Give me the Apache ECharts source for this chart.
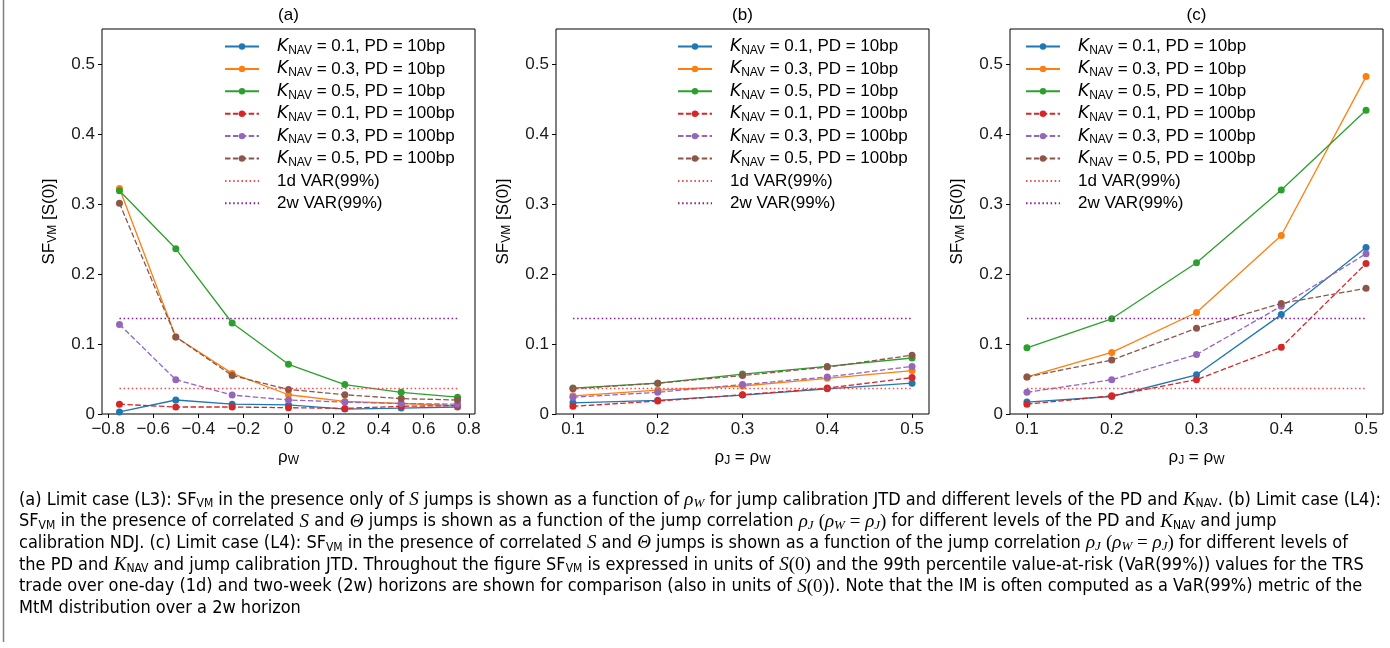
<!DOCTYPE html>
<html><head><meta charset="utf-8">
<script src="https://cdn.jsdelivr.net/npm/echarts@6/dist/echarts.min.js"></script>
<style>html,body{margin:0;padding:0;background:#fff}#c{width:1390px;height:648px}</style>
</head><body><div id="c"></div>
<script>
// ---------- data ----------
const xA = [-0.75, -0.5, -0.25, 0, 0.25, 0.5, 0.75];
const xBC = [0.1, 0.2, 0.3, 0.4, 0.5];

// panel (a)
const a_k01_10  = [0.003, 0.020, 0.014, 0.013, 0.007, 0.0085, 0.010];
const a_k03_10  = [0.322, 0.110, 0.058, 0.0275, 0.018, 0.015, 0.012];
const a_k05_10  = [0.319, 0.236, 0.130, 0.071, 0.042, 0.031, 0.024];
const a_k01_100 = [0.014, 0.010, 0.010, 0.009, 0.008, 0.011, 0.012];
const a_k03_100 = [0.128, 0.049, 0.027, 0.020, 0.017, 0.015, 0.014];
const a_k05_100 = [0.301, 0.110, 0.055, 0.035, 0.0275, 0.022, 0.020];
// panel (b)
const b_k01_10  = [0.016, 0.0195, 0.027, 0.036, 0.044];
const b_k03_10  = [0.026, 0.034, 0.040, 0.051, 0.062];
const b_k05_10  = [0.037, 0.044, 0.057, 0.068, 0.080];
const b_k01_100 = [0.011, 0.0185, 0.0275, 0.037, 0.052];
const b_k03_100 = [0.024, 0.031, 0.042, 0.053, 0.068];
const b_k05_100 = [0.036, 0.044, 0.055, 0.067, 0.084];
// panel (c)
const c_k01_10  = [0.017, 0.025, 0.056, 0.142, 0.238];
const c_k03_10  = [0.053, 0.088, 0.145, 0.255, 0.482];
const c_k05_10  = [0.0945, 0.136, 0.216, 0.320, 0.434];
const c_k01_100 = [0.014, 0.026, 0.049, 0.0955, 0.215];
const c_k03_100 = [0.031, 0.049, 0.085, 0.154, 0.229];
const c_k05_100 = [0.053, 0.077, 0.1225, 0.158, 0.1795];

const var1d = 0.0365;
const var2w = 0.1365;

const seriesNames = [
  'K_NAV = 0.1, PD = 10bp', 'K_NAV = 0.3, PD = 10bp', 'K_NAV = 0.5, PD = 10bp',
  'K_NAV = 0.1, PD = 100bp', 'K_NAV = 0.3, PD = 100bp', 'K_NAV = 0.5, PD = 100bp'
];
const varNames = ['1d VAR(99%)', '2w VAR(99%)'];
const panelTitles = ['(a)', '(b)', '(c)'];

const xTicksA = [-0.8, -0.6, -0.4, -0.2, 0, 0.2, 0.4, 0.6, 0.8];
const xTicksBC = [0.1, 0.2, 0.3, 0.4, 0.5];
const yTicks = [0, 0.1, 0.2, 0.3, 0.4, 0.5];

// ---------- styling ----------
const colors = ['#1f77b4', '#ff7f0e', '#2ca02c', '#d62728', '#9467bd', '#8c564b'];
const varColors = ['#f24a4a', '#8a1a96'];
const FONT = "'Liberation Sans', Arial, sans-serif";

const panels = [
  {xs: xA, ys: [a_k01_10, a_k03_10, a_k05_10, a_k01_100, a_k03_100, a_k05_100], left: 102, xmin: -0.8275, xmax: 0.8275, ticks: xTicksA, legendLeft: 224,
   xname: '{r|ρ}{s|W}'},
  {xs: xBC, ys: [b_k01_10, b_k03_10, b_k05_10, b_k01_100, b_k03_100, b_k05_100], left: 556, xmin: 0.08, xmax: 0.52, ticks: xTicksBC, legendLeft: 677,
   xname: '{r|ρ}{s|J}{r| = ρ}{s|W}'},
  {xs: xBC, ys: [c_k01_10, c_k03_10, c_k05_10, c_k01_100, c_k03_100, c_k05_100], left: 1010, xmin: 0.08, xmax: 0.52, ticks: xTicksBC, legendLeft: 1025,
   xname: '{r|ρ}{s|J}{r| = ρ}{s|W}'}
];
const GW = 373, GTOP = 29, GH = 385;

const subRich = {
  r: {fontSize: 17, fontFamily: FONT, lineHeight: 20, color: '#000'},
  s: {fontSize: 12, fontFamily: FONT, lineHeight: 12, verticalAlign: 'bottom', color: '#000'}
};

const grids = [], xAxes = [], yAxes = [], series = [], legends = [], graphics = [];

function fmtX(v) {
  if (Math.abs(v) < 1e-9) return '0';
  return (v < 0 ? '\u2212' : '') + Math.abs(v).toFixed(1);
}

panels.forEach((p, gi) => {
  grids.push({left: p.left, top: GTOP, width: GW, height: GH, show: true, borderColor: '#000', borderWidth: 1, backgroundColor: 'transparent'});
  xAxes.push({
    type: 'value', gridIndex: gi, min: p.xmin, max: p.xmax,
    axisLine: {show: false, onZero: false},
    axisTick: {show: true, customValues: p.ticks, length: 4, inside: false, lineStyle: {color: '#000', width: 1}},
    axisLabel: {show: true, customValues: p.ticks, formatter: fmtX, margin: 7, fontSize: 17, fontFamily: FONT, color: '#1a1a1a'},
    splitLine: {show: false},
    name: p.xname, nameLocation: 'middle', nameGap: 33,
    nameTextStyle: {fontSize: 17, fontFamily: FONT, color: '#000', rich: subRich}
  });
  yAxes.push({
    type: 'value', gridIndex: gi, min: 0, max: 0.55,
    axisLine: {show: false, onZero: false},
    axisTick: {show: true, customValues: yTicks, length: 4, inside: false, lineStyle: {color: '#000', width: 1}},
    axisLabel: {show: true, customValues: yTicks, formatter: v => Math.abs(v) < 1e-9 ? '0' : v.toFixed(1), margin: 7, fontSize: 17, fontFamily: FONT, color: '#1a1a1a'},
    splitLine: {show: false},
    name: '{r|SF}{s|VM}{r| [S(0)]}', nameLocation: 'middle', nameGap: 43, nameRotate: 90,
    nameTextStyle: {fontSize: 17, fontFamily: FONT, color: '#000', rich: subRich}
  });
  p.ys.forEach((ys, si) => {
    const dashed = si >= 3;
    series.push({
      type: 'line', name: seriesNames[si], xAxisIndex: gi, yAxisIndex: gi,
      data: p.xs.map((x, i) => [x, ys[i]]),
      symbol: 'circle', symbolSize: 7, showSymbol: true,
      lineStyle: {color: colors[si], width: 1.3, type: dashed ? [5.5, 2.4] : 'solid'},
      itemStyle: {color: colors[si]},
      emphasis: {disabled: true}, animation: false, z: 2 + si
    });
  });
  [var1d, var2w].forEach((v, vi) => {
    series.push({
      type: 'line', name: varNames[vi], xAxisIndex: gi, yAxisIndex: gi,
      data: [[p.xs[0], v], [p.xs[p.xs.length - 1], v]],
      symbol: 'none',
      lineStyle: {color: varColors[vi], width: 1.5, type: [1.5, 2.6]},
      itemStyle: {color: varColors[vi], opacity: 0},
      emphasis: {disabled: true}, animation: false, z: 10
    });
  });
  legends.push({
    data: seriesNames.map(n => ({name: n})).concat(varNames.map(n => ({name: n, itemStyle: {opacity: 0}}))),
    orient: 'vertical', left: p.legendLeft, top: 36.5,
    padding: 0, itemWidth: 34, itemHeight: 8, itemGap: 2.4, selectedMode: false,
    formatter: n => '{g| }' + (n.indexOf('K_NAV') === 0 ? '{k|K}{s|NAV}{t|' + n.slice(5) + '}' : '{t|' + n + '}'),
    textStyle: {
      fontSize: 17, fontFamily: FONT, color: '#000', lineHeight: 20,
      rich: {
        g: {width: 13, fontSize: 17, lineHeight: 20},
        k: {fontSize: 17, fontStyle: 'italic', fontFamily: "'DejaVu Sans', sans-serif", lineHeight: 20, color: '#000'},
        s: {fontSize: 12, fontFamily: FONT, lineHeight: 12, verticalAlign: 'bottom', color: '#000'},
        t: {fontSize: 17, fontFamily: FONT, lineHeight: 20, color: '#000'}
      }
    }
  });
  graphics.push({
    type: 'text', x: p.left + GW / 2, y: 15.5, silent: true,
    style: {text: panelTitles[gi], fontSize: 17, fontFamily: FONT, fill: '#000', align: 'center', verticalAlign: 'middle'}
  });
});

// ---------- caption ----------
const captionLines = [
  '(a) Limit case (L3): SF{sub|VM} in the presence only of {mi|S} jumps is shown as a function of {mi|ρ}{msub|W} for jump calibration JTD and different levels of the PD and {mi|K}{sub|NAV}. (b) Limit case (L4):',
  'SF{sub|VM} in the presence of correlated {mi|S} and {mi|Θ} jumps is shown as a function of the jump correlation {mi|ρ}{msub|J} {mr|(}{mi|ρ}{msub|W}{mr| = }{mi|ρ}{msub|J}{mr|)} for different levels of the PD and {mi|K}{sub|NAV} and jump',
  'calibration NDJ. (c) Limit case (L4): SF{sub|VM} in the presence of correlated {mi|S} and {mi|Θ} jumps is shown as a function of the jump correlation {mi|ρ}{msub|J} {mr|(}{mi|ρ}{msub|W}{mr| = }{mi|ρ}{msub|J}{mr|)} for different levels of',
  'the PD and {mi|K}{sub|NAV} and jump calibration JTD. Throughout the figure SF{sub|VM} is expressed in units of {mi|S}{mr|(0)} and the 99th percentile value-at-risk (VaR(99%)) values for the TRS',
  'trade over one-day (1d) and two-week (2w) horizons are shown for comparison (also in units of {mi|S}{mr|(0)}). Note that the IM is often computed as a VaR(99%) metric of the',
  'MtM distribution over a 2w horizon'
];
const CAPFONT = "'Liberation Sans Narrow', 'DejaVu Sans Condensed', 'Liberation Sans', sans-serif";
const SERIF = "'Liberation Serif', 'DejaVu Serif', serif";
const capRich = {
  sub: {fontSize: 12, fontFamily: CAPFONT, lineHeight: 12, verticalAlign: 'bottom', fill: '#000'},
  mi: {fontSize: 19, fontFamily: SERIF, fontStyle: 'italic', lineHeight: 20, fill: '#000'},
  mr: {fontSize: 19, fontFamily: SERIF, lineHeight: 20, fill: '#000'},
  msub: {fontSize: 13, fontFamily: SERIF, fontStyle: 'italic', lineHeight: 12, verticalAlign: 'bottom', fill: '#000'}
};
captionLines.forEach((t, i) => {
  graphics.push({
    type: 'text', x: 19, y: 500 + i * 21.7, silent: true,
    style: {text: t, fontSize: 18, fontFamily: CAPFONT, lineHeight: 20, fill: '#000', align: 'left', verticalAlign: 'middle', rich: capRich}
  });
});
graphics.push({type: 'line', silent: true, shape: {x1: 3.5, y1: 0, x2: 3.5, y2: 642}, style: {stroke: '#808080', lineWidth: 1.5}});

const chart = echarts.init(document.getElementById('c'), null, {renderer: 'canvas'});
chart.setOption({
  animation: false,
  backgroundColor: '#fff',
  grid: grids, xAxis: xAxes, yAxis: yAxes, series: series, legend: legends,
  graphic: {elements: graphics}
});
</script>
</body></html>
